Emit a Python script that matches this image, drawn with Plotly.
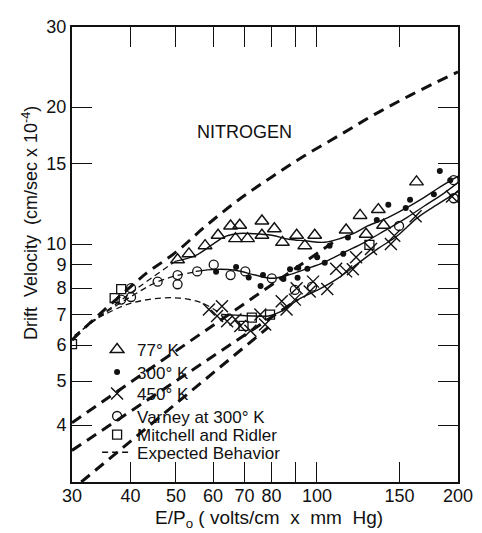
import plotly.graph_objects as go
import math

# ---------------- data ----------------
t77_x = [50.4, 53.3, 57.7, 61.5, 65.4, 67.0, 68.4, 71.1, 76.3, 76.3, 81.1, 84.4, 90.5, 94.2, 98.9, 115.4, 123.6, 127.3, 135.2, 138.7, 163.1]
t77_y = [9.24, 9.52, 9.92, 10.46, 10.96, 10.28, 11.0, 10.28, 11.24, 10.46, 10.81, 10.09, 10.46, 9.92, 10.46, 10.74, 11.56, 10.51, 11.91, 11.0, 13.70]

t300_x = [60.9, 67.2, 71.5, 75.8, 76.7, 84.8, 87.6, 90.9, 91.2, 95.4, 100.1, 103.9, 106.4, 113.8, 116.4, 134.2, 142.0, 154.7, 158.0, 177.6, 182.9, 192.5]
t300_y = [8.69, 8.91, 8.44, 8.09, 8.55, 8.38, 8.80, 8.43, 8.87, 8.83, 9.36, 9.10, 9.92, 9.52, 10.34, 11.29, 12.21, 12.0, 12.52, 12.87, 14.48, 13.82]

t450_x = [58.8, 61.2, 62.7, 64.3, 67.0, 68.6, 72.1, 75.7, 77.5, 84.1, 86.1, 89.7, 90.5, 96.5, 98.1, 105.2, 109.9, 115.4, 119.3, 121.2, 130.4, 143.8, 146.2, 162.4, 194.2]
t450_y = [7.18, 6.95, 7.30, 6.77, 6.83, 6.61, 6.45, 7.00, 6.66, 7.49, 7.18, 7.55, 8.00, 7.87, 8.27, 7.97, 8.83, 8.71, 8.80, 9.36, 9.76, 10.0, 10.43, 11.51, 12.72]

varney_x = [38.2, 40.1, 40.1, 45.7, 50.4, 50.4, 55.5, 60.2, 65.4, 70.3, 80.1, 89.7, 97.6, 149.7, 195.8, 195.8]
varney_y = [7.55, 7.65, 8.00, 8.27, 8.55, 8.16, 8.71, 9.01, 8.55, 8.71, 8.41, 7.93, 8.06, 10.96, 13.82, 12.61]

mitchell_x = [30.0, 37.0, 38.2, 69.7, 72.6, 79.4, 129.4]
mitchell_y = [6.03, 7.61, 7.96, 6.61, 6.89, 7.00, 9.96]

# smooth fitted curves (solid)
fit77_x = [49.8, 55.1, 60.0, 63.8, 68.1, 72.0, 80.1, 87.0, 94.2, 103.9, 112.6, 120.2, 128.3, 141.4, 155.0, 166.4, 180.0, 200.0]
fit77_y = [9.16, 9.44, 10.0, 10.4, 10.55, 10.55, 10.46, 10.25, 10.17, 10.09, 10.3, 10.57, 10.96, 11.42, 12.0, 12.52, 13.2, 14.1]

fit300_x = [55.1, 60.8, 67.0, 73.8, 80.1, 86.8, 94.2, 103.9, 114.5, 126.3, 139.2, 153.4, 169.2, 186.5, 200.0]
fit300_y = [8.71, 8.80, 8.76, 8.55, 8.41, 8.55, 8.80, 9.13, 9.60, 10.09, 10.69, 11.33, 12.11, 12.93, 13.65]

fit450_x = [62.7, 67.0, 73.8, 78.8, 84.1, 91.2, 100.5, 110.8, 122.2, 134.7, 148.5, 163.7, 180.5, 200.0]
fit450_y = [7.00, 6.98, 6.95, 6.95, 7.12, 7.55, 7.93, 8.41, 9.06, 9.76, 10.43, 11.42, 12.21, 13.04]

# expected behaviour (heavy dashed)
exp_hi_x = [30.0, 31.2, 34.7, 40.8, 43.2, 50.0, 57.9, 68.1, 80.1, 94.2, 112.6, 132.5, 158.5, 200.0]
exp_hi_y = [6.15, 6.40, 7.08, 8.20, 8.62, 9.60, 10.96, 12.52, 14.05, 15.65, 17.43, 19.25, 21.26, 23.9]

exp_a_x = [30.0, 110.0]
exp_a_y = [4.05, 10.2]
exp_b_x = [30.0, 91.0]
exp_b_y = [3.52, 7.55]
exp_c_x = [31.4, 78.8]
exp_c_y = [3.0, 6.57]

# expected behaviour (thin dashed, low field)
thin_v_x = [30.4, 34.9, 40.1, 45.4, 50.8, 55.5]
thin_v_y = [6.29, 7.00, 7.67, 8.24, 8.55, 8.69]
thin_77_x = [30.4, 40.0, 49.8]
thin_77_y = [6.30, 7.80, 9.16]
thin_arc_x = [32.7, 34.9, 39.2, 44.6, 50.8, 56.9, 62.7]
thin_arc_y = [6.74, 6.97, 7.36, 7.58, 7.61, 7.42, 7.00]

x_ticks = [30, 40, 50, 60, 70, 80, 90, 100, 150, 200]
x_ticktext = ["30", "40", "50", "60", "70", "80", "", "100", "150", "200"]
y_ticks = [4, 5, 6, 7, 8, 9, 10, 15, 20, 30]
y_ticktext = ["4", "5", "6", "7", "8", "9", "10", "15", "20", "30"]

legend_names = ["77° K", "300° K", "450° K", "Varney at 300° K", "Mitchell and Ridler", "Expected Behavior"]

# ---------------- figure ----------------
BLACK = "#111111"
FONT = "Liberation Sans"
fig = go.Figure()

heavy = dict(color=BLACK, width=3, dash="11px,7px")
thin = dict(color=BLACK, width=1.3, dash="6px,4px")
solid = dict(color=BLACK, width=1.4)

for xs, ys in [(exp_hi_x, exp_hi_y), (exp_a_x, exp_a_y), (exp_b_x, exp_b_y), (exp_c_x, exp_c_y)]:
    fig.add_trace(go.Scatter(x=xs, y=ys, mode="lines", line=dict(heavy, shape="spline"),
                             showlegend=False, hoverinfo="skip"))
for xs, ys in [(thin_v_x, thin_v_y), (thin_77_x, thin_77_y), (thin_arc_x, thin_arc_y)]:
    fig.add_trace(go.Scatter(x=xs, y=ys, mode="lines", line=dict(thin, shape="spline"),
                             showlegend=False, hoverinfo="skip"))
for xs, ys in [(fit77_x, fit77_y), (fit300_x, fit300_y), (fit450_x, fit450_y)]:
    fig.add_trace(go.Scatter(x=xs, y=ys, mode="lines", line=dict(solid, shape="spline", smoothing=1.0),
                             showlegend=False, hoverinfo="skip"))

fig.add_trace(go.Scatter(x=t77_x, y=t77_y, mode="markers", name=legend_names[0], legend="legend",
                         marker=dict(symbol="triangle-up-open", size=12, color=BLACK, line=dict(width=1.4, color=BLACK))))
fig.add_trace(go.Scatter(x=t300_x, y=t300_y, mode="markers", name=legend_names[1], legend="legend2",
                         marker=dict(symbol="circle", size=6, color=BLACK)))
fig.add_trace(go.Scatter(x=t450_x, y=t450_y, mode="markers", name=legend_names[2], legend="legend3",
                         marker=dict(symbol="x-thin-open", size=12, color=BLACK, line=dict(width=1.4, color=BLACK))))
fig.add_trace(go.Scatter(x=varney_x, y=varney_y, mode="markers", name=legend_names[3], legend="legend4",
                         marker=dict(symbol="circle-open", size=9, color=BLACK, line=dict(width=1.3, color=BLACK))))
fig.add_trace(go.Scatter(x=mitchell_x, y=mitchell_y, mode="markers", name=legend_names[4], legend="legend5",
                         marker=dict(symbol="square-open", size=9, color=BLACK, line=dict(width=1.3, color=BLACK))))
fig.add_trace(go.Scatter(x=[None], y=[None], mode="lines", name=legend_names[5], legend="legend6",
                         line=dict(color=BLACK, width=1.5, dash="6px,4px")))

axis_common = dict(type="log", showgrid=False, zeroline=False, showline=True, linecolor=BLACK, linewidth=2,
                   mirror="allticks", ticks="inside", ticklen=20, tickwidth=1.4, tickcolor=BLACK,
                   tickfont=dict(family=FONT, size=18, color=BLACK))

# one legend box per row so each row sits where the reference puts it
row_y = [0.2903, 0.2409, 0.1935, 0.1441, 0.1032, 0.0645]
legends = {}
for i, yy in enumerate(row_y):
    key = "legend" if i == 0 else "legend%d" % (i + 1)
    legends[key] = dict(x=0.065, y=yy, xanchor="left", yanchor="middle", bgcolor="rgba(0,0,0,0)",
                        font=dict(family=FONT, size=17, color=BLACK), itemwidth=30,
                        borderwidth=0)

# the page body adds an 8px margin, so the figure is sized 8px smaller and the
# top/left margins are reduced by 8px to land the plot area where it belongs
fig.update_layout(
    width=474, height=525,
    margin=dict(l=64, r=21, t=9, b=51),
    paper_bgcolor="white", plot_bgcolor="white",
    font=dict(family=FONT, color=BLACK),
    xaxis=dict(axis_common, range=[math.log10(30), math.log10(200)], tickvals=x_ticks, ticktext=x_ticktext,
               ticklabelstandoff=-4),
    yaxis=dict(axis_common, range=[math.log10(3), math.log10(30)], tickvals=y_ticks, ticktext=y_ticktext),
    annotations=[
        dict(text="NITROGEN", x=0.4465, y=0.795, xref="paper", yref="paper", showarrow=False,
             font=dict(family=FONT, size=18, color=BLACK)),
        dict(text="Drift  Velocity  (cm/sec x 10<sup>-4</sup>)", x=-0.108, y=0.57, xref="paper", yref="paper",
             showarrow=False, textangle=-90, xanchor="center", yanchor="middle",
             font=dict(family=FONT, size=18, color=BLACK)),
        dict(text="E/P<sub>o</sub> ( volts/cm  x  mm  Hg)", x=0.51, y=-0.0817, xref="paper", yref="paper",
             showarrow=False, xanchor="center", yanchor="middle",
             font=dict(family=FONT, size=19, color=BLACK)),
    ],
    **legends,
)

fig.write_html("out.html")
